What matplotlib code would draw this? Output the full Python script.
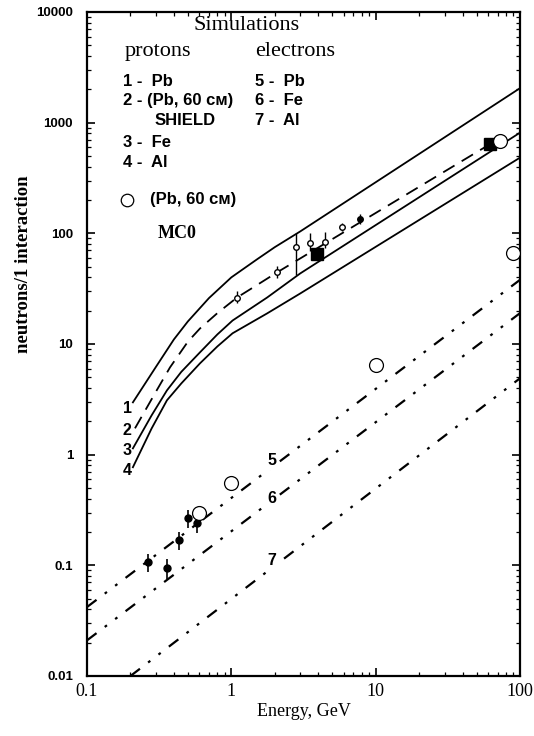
import numpy as np
import matplotlib.pyplot as plt
from matplotlib.ticker import LogLocator, NullFormatter

plt.rcParams['lines.scale_dashes'] = False
SERIF = 'Liberation Serif'
SANS = 'Liberation Sans'

# simulations, protons (E in GeV, neutrons per interaction)
e1 = [0.208, 0.3, 0.4, 0.5, 0.7, 1.0, 1.5, 2.0, 3.0, 100]
n1 = [2.97, 6.2, 11, 16, 26, 40, 58, 75, 104, 2050]
e2 = [0.215, 0.3, 0.376, 0.5, 0.606, 0.8, 1.095, 1.5, 2.07, 62]
n2 = [1.73, 3.7, 6.15, 10.5, 13.8, 19, 26.3, 34, 44.3, 640]
e3 = [0.208, 0.28, 0.358, 0.45, 0.606, 0.8, 1.02, 1.77, 3.0, 100]
n3 = [1.14, 2.26, 3.81, 5.6, 8.4, 12.2, 16.3, 26.3, 43.4, 812]
e4 = [0.208, 0.28, 0.358, 0.45, 0.606, 0.8, 1.02, 1.77, 3.0, 100]
n4 = [0.77, 1.72, 3.1, 4.4, 6.68, 9.5, 12.5, 18.9, 28.6, 483]

# simulations, electrons
e5 = [0.1, 100]
n5 = [0.042, 38]
e6 = [0.1, 100]
n6 = [0.021, 19]
e7 = [0.2, 100]
n7 = [0.01, 4.9]

# proton data on curve 2
ep = [1.095, 2.07, 2.8, 3.5, 4.46, 5.85]
np_ = [26.3, 44.3, 75, 81, 83, 113]
ep_lo = [3, 5, 33, 12, 10, 8]
ep_hi = [4, 6, 25, 19, 19, 10]
ef = [7.8]
nf = [136]
es = [3.93, 62]
ns = [64.6, 640]

# open circles (Pb, 60 cm)
eo = [0.6, 1.0, 10, 73, 90]
no = [0.30, 0.55, 6.4, 690, 67]

# electron data
ee = [0.265, 0.358, 0.435, 0.50, 0.578]
ne = [0.107, 0.095, 0.169, 0.267, 0.24]
ne_err = [0.02, 0.02, 0.03, 0.05, 0.045]

fig = plt.figure(figsize=(5.34, 7.36), dpi=100)
ax = fig.add_axes([87/534, 1 - 676/736, 433/534, 664/736])
ax.set_xscale('log')
ax.set_yscale('log')
ax.set_xlim(0.1, 100)
ax.set_ylim(0.01, 10000)

lw = 1.3
ax.plot(e1, n1, color='black', lw=lw)
ax.plot(e2, n2, color='black', lw=lw, dashes=(9.5, 6))
ax.plot(e3, n3, color='black', lw=lw)
ax.plot(e4, n4, color='black', lw=lw)

ddot = (8.6, 7.4, 2, 7.4, 2, 7.4)
for e, n in [(e5, n5), (e6, n6), (e7, n7)]:
    ax.plot(e, n, color='black', lw=lw + 0.3, dashes=ddot)

ax.errorbar(ep, np_, yerr=[ep_lo, ep_hi], fmt='o', ms=4, mfc='white', mec='black',
            ecolor='black', elinewidth=1, capsize=0, zorder=4)
ax.errorbar(ef, nf, yerr=[[15], [15]], fmt='o', ms=4, color='black', elinewidth=1, capsize=0, zorder=4)
ax.errorbar(es, ns, yerr=[[8, 0], [8, 0]], fmt='s', ms=8, color='black', elinewidth=1.2, capsize=0, zorder=4)
ax.plot(eo, no, 'o', ms=10, mfc='white', mec='black', mew=0.9, zorder=5)
ax.errorbar(ee, ne, yerr=ne_err, fmt='o', ms=5, color='black', elinewidth=1.2, capsize=0, zorder=4)

# curve labels
lab_kw = dict(fontfamily=SANS, fontweight='bold', fontsize=11.5, ha='center', va='center')
for t, y in zip(['1', '2', '3', '4'], [2.6, 1.66, 1.1, 0.72]):
    ax.text(0.19, y, t, **lab_kw)
for t, y in zip(['5', '6', '7'], [0.89, 0.40, 0.111]):
    ax.text(1.91, y, t, bbox=dict(facecolor='white', edgecolor='none', pad=1.5), zorder=6, **lab_kw)

# header block
tr = ax.transAxes
ax.text(0.368, 0.980, 'Simulations', transform=tr, fontfamily=SERIF, fontsize=16, ha='center', va='center')
ax.text(0.088, 0.940, 'protons', transform=tr, fontfamily=SERIF, fontsize=16, va='center')
ax.text(0.388, 0.940, 'electrons', transform=tr, fontfamily=SERIF, fontsize=16, va='center')
sk = dict(transform=tr, fontfamily=SANS, fontweight='bold', fontsize=12, va='center')
ax.text(0.083, 0.895, '1 -  Pb', **sk)
ax.text(0.083, 0.867, '2 - (Pb, 60 см)', **sk)
ax.text(0.157, 0.837, 'SHIELD', **sk)
ax.text(0.083, 0.804, '3 -  Fe', **sk)
ax.text(0.083, 0.773, '4 -  Al', **sk)
ax.text(0.388, 0.895, '5 -  Pb', **sk)
ax.text(0.388, 0.867, '6 -  Fe', **sk)
ax.text(0.388, 0.837, '7 -  Al', **sk)
ax.plot([0.092], [0.717], 'o', ms=9, mfc='white', mec='black', mew=0.9, transform=tr, clip_on=False)
ax.text(0.145, 0.717, '(Pb, 60 см)', **sk)
ax.text(0.162, 0.667, 'MC0', transform=tr, fontfamily=SERIF, fontweight='bold', fontsize=13, va='center')

# axes styling
for s in ax.spines.values():
    s.set_linewidth(1.6)
ax.tick_params(which='both', direction='in', top=True, right=True)
ax.tick_params(which='major', length=6, width=1.2)
ax.tick_params(which='minor', length=3, width=0.9)
ax.yaxis.set_minor_locator(LogLocator(base=10, subs=np.arange(2, 10), numticks=10))
ax.xaxis.set_minor_locator(LogLocator(base=10, subs=np.arange(2, 10), numticks=10))
ax.xaxis.set_minor_formatter(NullFormatter())
ax.yaxis.set_minor_formatter(NullFormatter())
ax.set_xticks([0.1, 1, 10, 100])
ax.set_xticklabels(['0.1', '1', '10', '100'], fontfamily=SERIF, fontsize=13)
ax.set_yticks([0.01, 0.1, 1, 10, 100, 1000, 10000])
ax.set_yticklabels(['0.01', '0.1', '1', '10', '100', '1000', '10000'],
                   fontfamily=SANS, fontweight='bold', fontsize=9.5)
ax.tick_params(axis='y', pad=10)
ax.tick_params(axis='x', pad=5)

ax.set_xlabel('Energy, GeV', fontfamily=SERIF, fontsize=13, labelpad=2)
ax.set_ylabel('neutrons/1 interaction', fontfamily=SERIF, fontweight='bold', fontsize=13.5)
ax.yaxis.set_label_coords(-0.128, 0.62)

fig.savefig('out.png', dpi=100)
